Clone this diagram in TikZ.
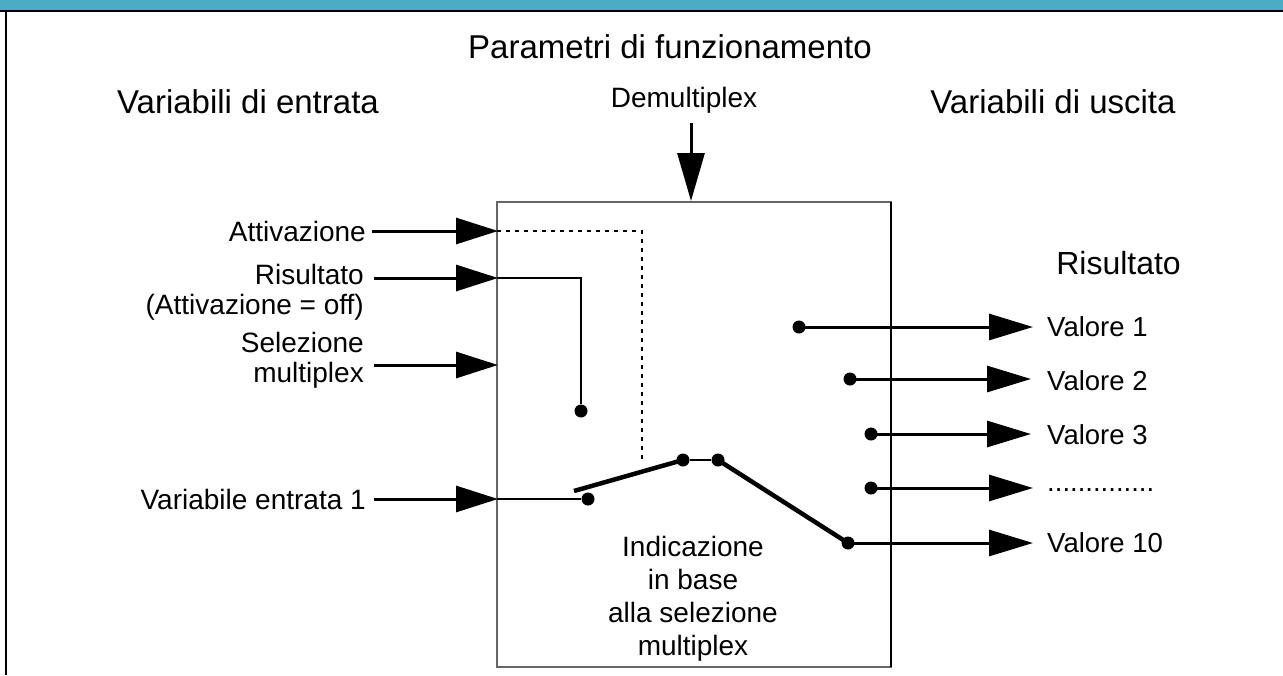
\documentclass[tikz,border=0pt]{standalone}
\usepackage{fontspec}
\setmainfont{Liberation Sans}
\usetikzlibrary{arrows.meta}
\definecolor{bar}{HTML}{4BACC6}
\definecolor{boxgray}{HTML}{666666}
\tikzset{
  head/.style={font=\fontsize{33}{37}\selectfont, inner sep=0pt},
  lbl/.style={font=\fontsize{28}{30}\selectfont, inner sep=0pt, align=right},
  rlbl/.style={font=\fontsize{27.5}{31}\selectfont, inner sep=0pt, anchor=west},
  inarrow/.style={line width=3pt, -{Triangle[length=42pt,width=26pt]}, shorten >=-1pt},
  outarrow/.style={line width=3pt, -{Triangle[length=44pt,width=26pt]}},
  thin/.style={line width=2pt},
  lever/.style={line width=4.5pt},
  dotline/.style={line width=2.5pt, dash pattern=on 4pt off 5pt},
  pin/.style={circle, fill=black, inner sep=0pt, minimum size=13pt},
}
\begin{document}
\begin{tikzpicture}[x=1pt,y=-1pt]
\useasboundingbox (0,0) rectangle (1283,675);
\fill[bar] (0,0) rectangle (1283,11);
\draw[line width=2.5pt] (0,11) -- (1283,11);
\draw[line width=2.5pt] (6,11) -- (6,675);

% main box
\draw[boxgray, line width=2.5pt] (497,202) rectangle (891,667);
\draw[black, line width=2.5pt] (891,202) -- (891,667);

% headings
\node[head] (param) at (670,47) {Parametri di funzionamento};
\node[head] (vin) at (248,102) {Variabili di entrata};
\node[head] (vout) at (1053,102) {Variabili di uscita};
\node[font=\fontsize{28}{32}\selectfont, inner sep=0pt] (demux) at (684,100) {Demultiplex};
\node[font=\fontsize{32}{36}\selectfont, inner sep=0pt, anchor=east] (ris) at (1181,263) {Risultato};

% demux arrow
\coordinate (dtop) at (691,123);
\coordinate (dtip) at (691,201);
\draw[line width=3pt, -{Triangle[length=48pt,width=27pt]}] (dtop) -- (dtip);

% left labels
\node[lbl, anchor=east] (att) at (366,231) {Attivazione};
\node[lbl, anchor=east] (risin) at (364,292) {Risultato\\(Attivazione = off)};
\node[lbl, anchor=east] (sel) at (364,360) {Selezione\\multiplex};
\node[lbl, anchor=east] (var1) at (366,499) {Variabile entrata 1};

\coordinate (attS) at (372,231);  \coordinate (attE) at (497,231);
\coordinate (risS) at (374,278);  \coordinate (risE) at (497,278);
\coordinate (selS) at (374,365);  \coordinate (selE) at (497,365);
\coordinate (varS) at (374,499);  \coordinate (varE) at (497,499);
\draw[inarrow] (attS) -- (attE);
\draw[inarrow] (risS) -- (risE);
\draw[inarrow] (selS) -- (selE);
\draw[inarrow] (varS) -- (varE);

% internal wiring
\coordinate (dotcorner) at (642,231);
\coordinate (dotend) at (642,462);
\draw[dotline] (attE) -- (dotcorner) -- (dotend);

\node[pin] (pr) at (581,411) {};
\coordinate (rcorner) at (581,278);
\draw[thin] (risE) -- (rcorner) -- (pr.north);

\node[pin] (pv) at (588,499) {};
\draw[thin] (varE) -- (pv);

\node[pin] (pa) at (683,460) {};
\node[pin] (pb) at (718,460) {};
\node[pin] (p10) at (848,543) {};
\coordinate (levS) at (574,491);
\draw[lever] (levS) -- (pa.center);
\draw[thin] (pa) -- (pb);
\draw[lever] (pb.center) -- (p10.center);

% outputs
\node[pin] (o1) at (799,327) {};
\node[pin] (o2) at (850,379) {};
\node[pin] (o3) at (871,434) {};
\node[pin] (o4) at (871,488) {};
\coordinate (t1) at (1033,327);
\coordinate (t2) at (1031,379);
\coordinate (t3) at (1031,434);
\coordinate (t4) at (1033,488);
\coordinate (t10) at (1033,543);
\draw[outarrow] (o1.center) -- (t1);
\draw[outarrow] (o2.center) -- (t2);
\draw[outarrow] (o3.center) -- (t3);
\draw[outarrow] (o4.center) -- (t4);
\draw[outarrow] (p10.center) -- (t10);

\node[rlbl] (v1) at (1047,327) {Valore 1};
\node[rlbl] (v2) at (1047,381) {Valore 2};
\node[rlbl] (v3) at (1047,435) {Valore 3};
\node[rlbl] (vd) at (1047,490) {..............};
\node[rlbl] (v10) at (1047,543) {Valore 10};

% center text
\node[font=\fontsize{28}{33}\selectfont, align=center, inner sep=0pt] (ind) at (693,599)
  {Indicazione\\in base\\alla selezione\\multiplex};
\end{tikzpicture}
\end{document}
